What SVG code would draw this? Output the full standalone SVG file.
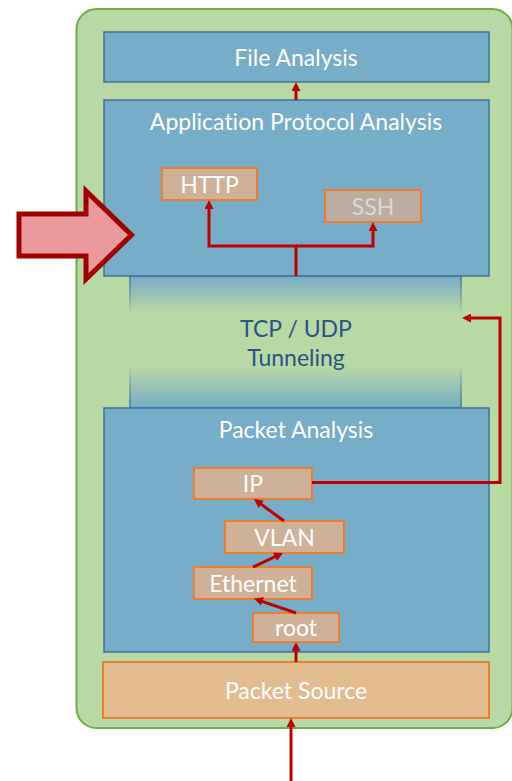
<svg xmlns="http://www.w3.org/2000/svg" width="512" height="781" viewBox="0 0 512 781">
  <style>
    .layer { fill: #76adc9; stroke: #41719c; stroke-width: 1.5; }
    .proto { fill: #cfb198; stroke: #ed7d31; stroke-width: 2; }
    .lbl { font-family: Lato, "Liberation Sans", sans-serif; font-size: 23px; fill: #ffffff; text-anchor: middle; font-variant-ligatures: none; }
    .dim { fill: #dadada; }
    .dark { fill: #285583; }
    .flow { fill: none; stroke: #c00000; stroke-width: 3; marker-end: url(#head); }
  </style>
  <defs>
    <marker id="head" viewBox="0 0 9 9" refX="5" refY="4.5" markerWidth="9" markerHeight="9" markerUnits="userSpaceOnUse" orient="auto">
      <path d="M0,0 L9,4.5 L0,9 z" fill="#c00000"/>
    </marker>
    <linearGradient id="tunnelFill" x1="0" y1="0" x2="0" y2="1">
      <stop offset="0" stop-color="#76adc9"/>
      <stop offset="0.28" stop-color="#b9d9a4"/>
      <stop offset="0.68" stop-color="#b9d9a4"/>
      <stop offset="1" stop-color="#76adc9"/>
    </linearGradient>
    <linearGradient id="tunnelEdge" x1="0" y1="0" x2="0" y2="1">
      <stop offset="0" stop-color="#41719c" stop-opacity="1"/>
      <stop offset="0.3" stop-color="#41719c" stop-opacity="0"/>
      <stop offset="0.66" stop-color="#41719c" stop-opacity="0"/>
      <stop offset="1" stop-color="#41719c" stop-opacity="1"/>
    </linearGradient>
  </defs>

  <!-- outer framework container -->
  <g id="framework">
    <rect x="76.5" y="9" width="436" height="719" rx="20" fill="#b9d9a4" stroke="#70ad47" stroke-width="2"/>
  </g>

  <!-- transport layer band between the two analysis layers -->
  <g id="tunneling">
    <rect x="130" y="276" width="331" height="132" fill="url(#tunnelFill)" stroke="url(#tunnelEdge)" stroke-width="1.5"/>
    <text class="lbl dark" x="296" y="337">TCP / UDP</text>
    <text class="lbl dark" x="296" y="366">Tunneling</text>
  </g>

  <g id="file-analysis">
    <rect class="layer" x="104" y="32" width="385" height="50"/>
    <text class="lbl" x="296" y="65.5">File Analysis</text>
  </g>

  <g id="app-protocol-analysis">
    <rect class="layer" x="104" y="100" width="385" height="176"/>
    <text class="lbl" x="296" y="130">Application Protocol Analysis</text>
  </g>

  <g id="http">
    <rect class="proto" x="162" y="168" width="95" height="32"/>
    <text class="lbl" x="209.5" y="192.5">HTTP</text>
  </g>

  <g id="ssh">
    <rect class="proto" x="325" y="190" width="96" height="32" style="fill:#bbaea1"/>
    <text class="lbl dim" x="373" y="214.5">SSH</text>
  </g>

  <g id="packet-analysis">
    <rect class="layer" x="104" y="408" width="385" height="244"/>
    <text class="lbl" x="296" y="438">Packet Analysis</text>
  </g>

  <g id="ip">
    <rect class="proto" x="194" y="468" width="118" height="31"/>
    <text class="lbl" x="253" y="491.5">IP</text>
  </g>

  <g id="vlan">
    <rect class="proto" x="225" y="521" width="119" height="32"/>
    <text class="lbl" x="284.5" y="545.5">VLAN</text>
  </g>

  <g id="ethernet">
    <rect class="proto" x="194" y="567" width="118" height="32"/>
    <text class="lbl" x="253" y="591.5">Ethernet</text>
  </g>

  <g id="root">
    <rect class="proto" x="253" y="613" width="86" height="29"/>
    <text class="lbl" x="296" y="635.5">root</text>
  </g>

  <g id="packet-source">
    <rect x="103" y="662" width="386" height="56" fill="#e2bc8e" stroke="#ed7d31" stroke-width="2"/>
    <text class="lbl" x="296" y="698.5">Packet Source</text>
  </g>

  <!-- data flow between stages -->
  <g id="connectors">
    <path class="flow" d="M296,100 V86"/>
    <path class="flow" d="M296,276 V246 H209 V204"/>
    <path class="flow" d="M296,246 H373 V226"/>
    <path class="flow" d="M312,482.5 H500 V318 H466"/>
    <path class="flow" d="M284,521 L257.2,501.4"/>
    <path class="flow" d="M253,567 L279.4,554.7"/>
    <path class="flow" d="M296,613 L257.8,599.8"/>
    <path class="flow" d="M296,662 V646"/>
    <path class="flow" d="M291,781 V722"/>
  </g>

  <!-- highlight arrow pointing at the application layer -->
  <g id="focus-arrow">
    <path d="M19,214 H86 V191 L131.5,235 L86,279 V256 H19 Z" fill="#ea9a9a" stroke="#a00000" stroke-width="5" stroke-linejoin="miter"/>
  </g>
</svg>
